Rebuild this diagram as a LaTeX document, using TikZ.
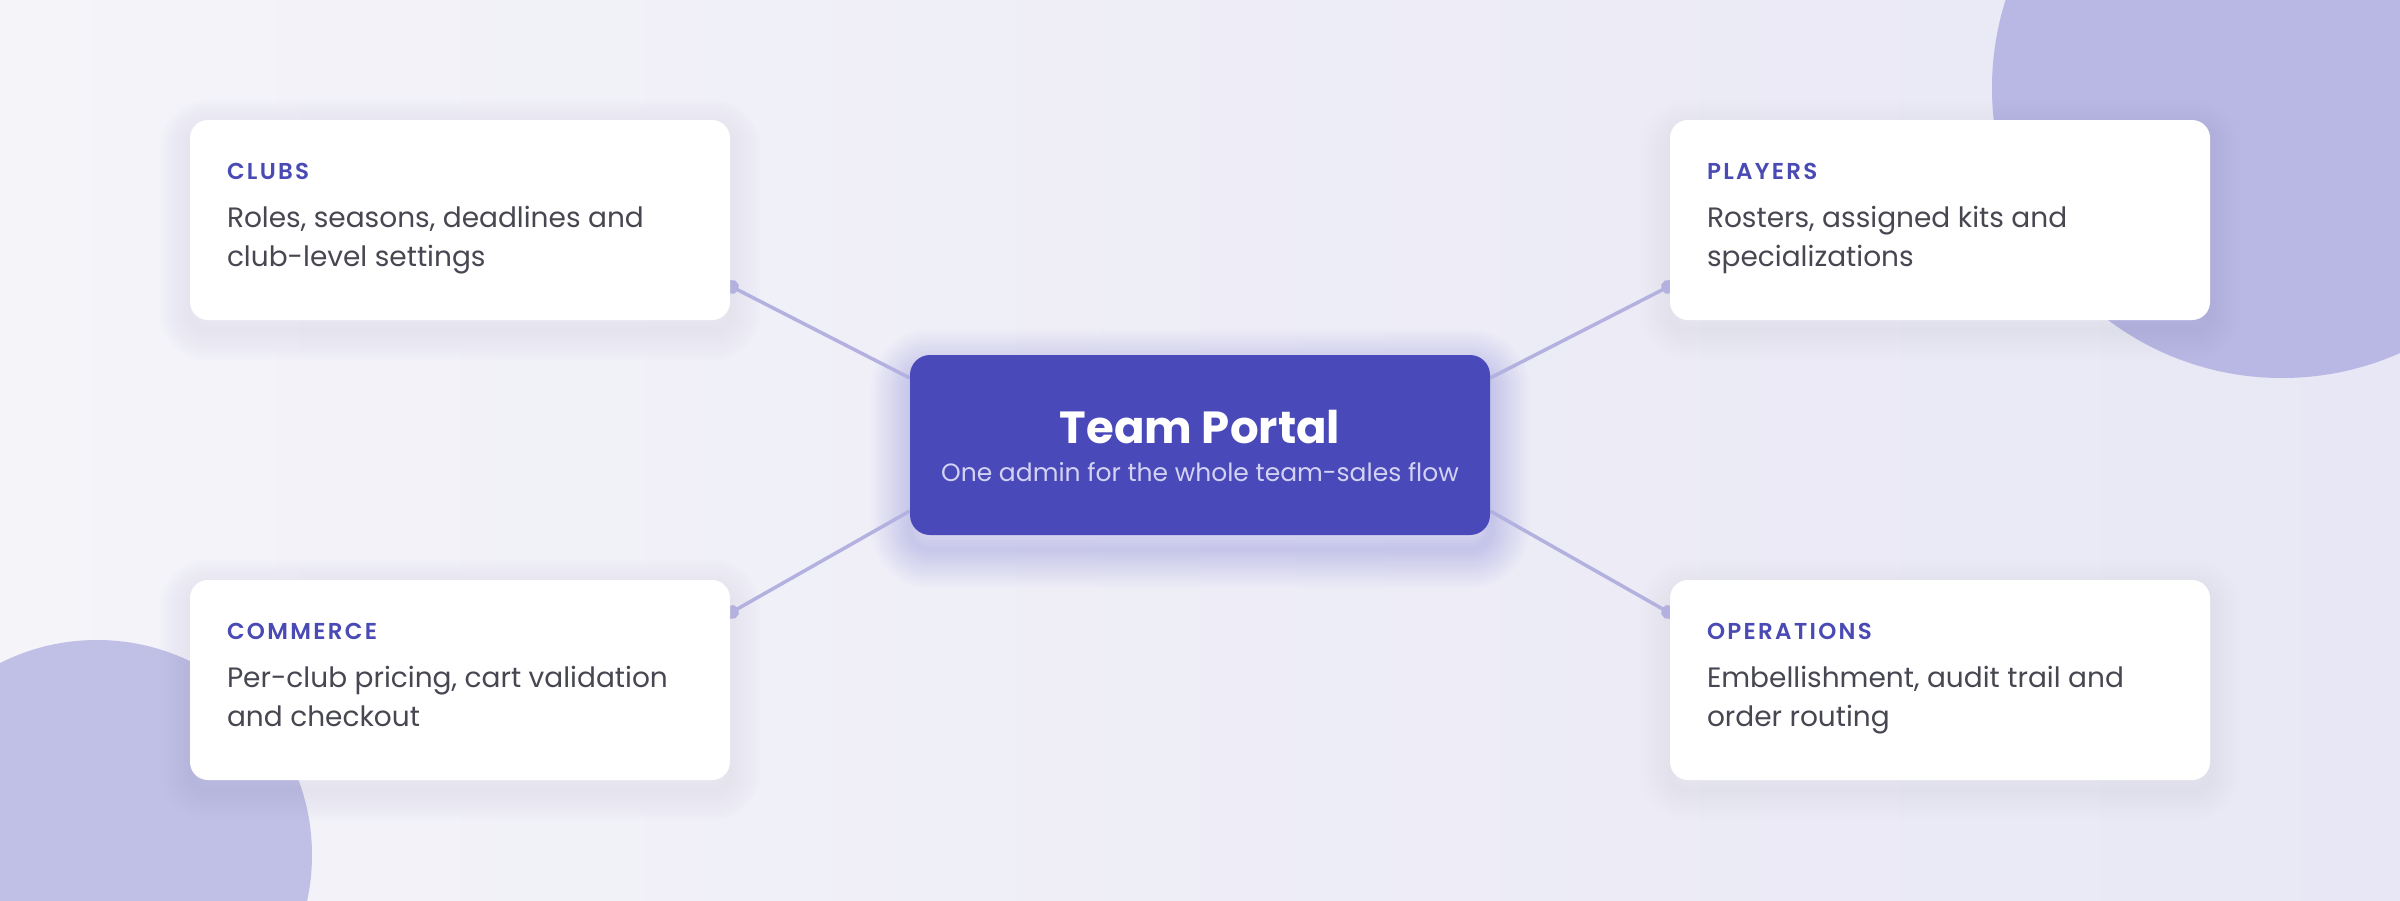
\documentclass[tikz,border=0pt]{standalone}
\usepackage{fontspec}
\setmainfont{Poppins}
\IfFontExistsTF{Poppins SemiBold}
  {\newfontfamily\capsfont{Poppins SemiBold}[LetterSpace=10]}
  {\newfontfamily\capsfont{Poppins}[LetterSpace=10]}
\usetikzlibrary{positioning,calc,arrows.meta}

\pgfdeclarelayer{back}
\pgfsetlayers{back,main}

\definecolor{bgleft}{HTML}{F4F4F9}
\definecolor{bgright}{HTML}{E8E7F5}
\definecolor{blobtr}{HTML}{B9B7E4}
\definecolor{blobbl}{HTML}{C0BFE5}
\definecolor{hubfill}{HTML}{4949BA}
\definecolor{subcol}{HTML}{D3D2F3}
\definecolor{headcol}{HTML}{4A4AB5}
\definecolor{bodycol}{HTML}{474752}
\definecolor{linkcol}{HTML}{B3B1E0}
\definecolor{cardshadow}{HTML}{6E6CB0}

\tikzset{
  card/.style={fill=white, rounded corners=18pt, minimum width=540pt,
    minimum height=200pt, inner sep=0pt},
  cardhead/.style={text=headcol, font=\capsfont\fontsize{23}{26}\selectfont,
    inner sep=0pt, anchor=base west},
  cardbody/.style={text=bodycol, font=\fontsize{28}{39}\selectfont, align=left,
    inner sep=0pt, anchor=base west},
  hub/.style={fill=hubfill, rounded corners=20pt, minimum width=580pt,
    minimum height=180pt, inner sep=0pt},
  hubtitle/.style={text=white, font=\bfseries\fontsize{45}{50}\selectfont,
    inner sep=0pt, anchor=base},
  hubsub/.style={text=subcol, font=\fontsize{25}{30}\selectfont,
    inner sep=0pt, anchor=base},
  link/.style={draw=linkcol, line width=3.5pt, {Circle[length=14pt]}-, shorten <=-5pt}
}

\begin{document}
\begin{tikzpicture}[x=1pt, y=-1pt]
  \useasboundingbox (0,0) rectangle (2400,900);
  % Backdrop:
  %   soft gradient with two round blobs in the corners
  \begin{pgfonlayer}{back}
    \begin{scope}
      \clip (0,0) rectangle (2400,900);
      \shade[left color=bgleft, right color=bgright] (0,0) rectangle (2400,900);
      \fill[blobtr] (2282,88) circle (290);
      \fill[blobbl] (97,855) circle (215);
    \end{scope}
  \end{pgfonlayer}

  % Hub:
  %   the portal itself, in the middle
  \node[hub] (hub) at (1200,445) {};
  \node[hubtitle] (hub-title) at ($(hub.center)+(0,-2)$) {Team Portal};
  \node[hubsub] (hub-sub) at ($(hub.center)+(0,36)$)
    {One admin for the whole team-sales flow};

  % Clubs:
  %   top left card
  \node[card] (clubs) at (460,220) {};
  \node[cardhead] (clubs-head) at ($(clubs.north west)+(37,60)$) {CLUBS};
  \node[cardbody] (clubs-body) at ($(clubs-head.base west)+(0,87)$)
    {Roles, seasons, deadlines and\\club-level settings};

  % Players:
  %   top right card
  \node[card] (players) at (1940,220) {};
  \node[cardhead] (players-head) at ($(players.north west)+(37,60)$) {PLAYERS};
  \node[cardbody] (players-body) at ($(players-head.base west)+(0,87)$)
    {Rosters, assigned kits and\\specializations};

  % Commerce:
  %   bottom left card
  \node[card] (commerce) at (460,680) {};
  \node[cardhead] (commerce-head) at ($(commerce.north west)+(37,60)$) {COMMERCE};
  \node[cardbody] (commerce-body) at ($(commerce-head.base west)+(0,87)$)
    {Per-club pricing, cart validation\\and checkout};

  % Operations:
  %   bottom right card
  \node[card] (operations) at (1940,680) {};
  \node[cardhead] (operations-head) at ($(operations.north west)+(37,60)$) {OPERATIONS};
  \node[cardbody] (operations-body) at ($(operations-head.base west)+(0,87)$)
    {Embellishment, audit trail and\\order routing};

  % shadows, then links from each card to the hub, kept behind the boxes
  \begin{pgfonlayer}{back}
    \foreach \n in {clubs,players,commerce,operations}
      \foreach \w in {6,12,...,60}
        \draw[cardshadow, line width=\w pt, draw opacity=.007, rounded corners=18pt]
          ([yshift=-10pt]\n.south west) rectangle ([yshift=-10pt]\n.north east);
    \foreach \w in {6,12,...,78}
      \draw[hubfill, line width=\w pt, draw opacity=.014, rounded corners=20pt]
        ([yshift=-14pt]hub.south west) rectangle ([yshift=-14pt]hub.north east);
    \draw[link] ([yshift=-66pt]clubs.east) -- ([yshift=67pt]hub.west);
    \draw[link] ([yshift=-66pt]players.west) -- ([yshift=67pt]hub.east);
    \draw[link] ([yshift=67pt]commerce.east) -- ([yshift=-66pt]hub.west);
    \draw[link] ([yshift=67pt]operations.west) -- ([yshift=-66pt]hub.east);
  \end{pgfonlayer}
\end{tikzpicture}
\end{document}
